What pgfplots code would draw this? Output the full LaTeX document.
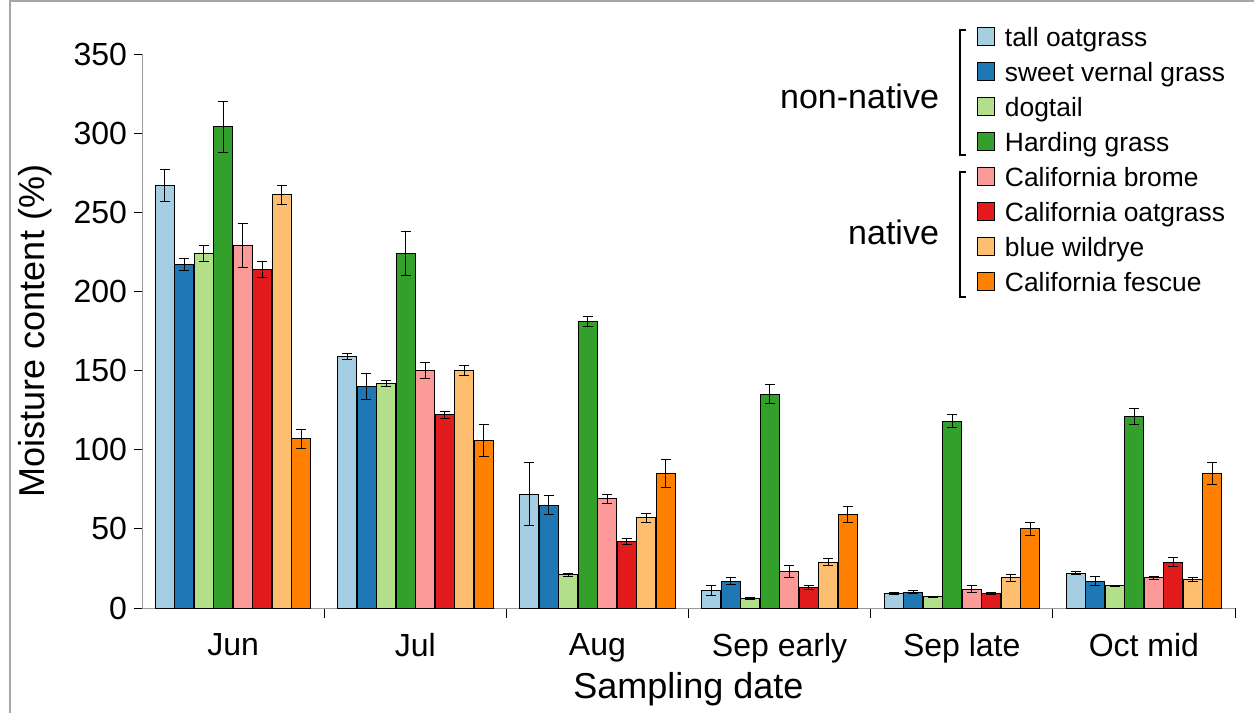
\documentclass[border=0pt]{standalone}
\usepackage{pgfplots}
\pgfplotsset{compat=1.18}
\usepackage{fontspec}
\setmainfont{Liberation Sans}
\definecolor{c1}{HTML}{A6CEE3}\definecolor{c2}{HTML}{1F78B4}
\definecolor{c3}{HTML}{B2DF8A}\definecolor{c4}{HTML}{33A02C}
\definecolor{c5}{HTML}{FB9A99}\definecolor{c6}{HTML}{E31A1C}
\definecolor{c7}{HTML}{FDBF6F}\definecolor{c8}{HTML}{FF7F00}
\begin{document}
\begin{tikzpicture}
\useasboundingbox (0,0) rectangle (627pt,356.5pt);
\draw[gray!70,line width=0.8pt] (5pt,0) -- (5pt,356pt) -- (627pt,356pt);
\draw[black,line width=0.6pt] (483pt,341.5pt) -- (480pt,341.5pt) -- (480pt,279pt) -- (483pt,279pt);
\draw[black,line width=0.6pt] (483pt,270.5pt) -- (480pt,270.5pt) -- (480pt,208pt) -- (483pt,208pt);
\node[anchor=east,font=\fontsize{17}{19}\selectfont] at (473pt,308.5pt) {non-native};
\node[anchor=east,font=\fontsize{17}{19}\selectfont] at (473pt,240.5pt) {native};
\begin{axis}[at={(71pt,52.5pt)},anchor=south west,scale only axis,
 width=546.5pt,height=277pt,xmin=-0.5,xmax=5.5,ymin=0,ymax=350,
 axis x line*=bottom,axis y line*=left,
 ytick={0,50,...,350},
 xtick={0,...,5},xticklabels={Jun,Jul,Aug,Sep early,Sep late,Oct mid},
 major x tick style={draw=none},
 minor xtick={0.5,1.5,2.5,3.5,4.5,5.5},
 minor tick length=5pt,
 every tick/.style={black},
 tick align=outside,major tick length=4pt,
 tick label style={font=\fontsize{16}{18}\selectfont},
 xticklabel style={yshift=-5pt},
 /pgf/number format/assume math mode=true,
 xlabel={Sampling date},ylabel={Moisture content (\%)},
 label style={font=\fontsize{18}{20}\selectfont},
 xlabel style={yshift=2pt},ylabel style={yshift=4pt},
 axis line style={gray!80},
 ybar,bar width=9.5pt,
 every axis plot/.append style={draw=black,line width=0.5pt},
 error bars/y dir=both,error bars/y explicit,
 error bars/error mark options={rotate=90,mark size=2.5pt,black,line width=0.5pt},
 error bars/error bar style={black,line width=0.5pt},
 legend cell align=left,
 legend style={at={(0.758,1.063)},anchor=north west,draw=none,fill=none,
   font=\fontsize{13.2}{14}\selectfont,row sep=2.4pt,nodes={inner xsep=5pt}},
 legend image code/.code={\draw[#1,draw=black] (0cm,-0.13cm) rectangle (0.3cm,0.19cm);},
 clip=false]
\addplot[fill=c1,bar shift=-34.125pt] coordinates {(0,267)+-(0,10) (1,159)+-(0,2) (2,72)+-(0,20) (3,11)+-(0,3) (4,9)+-(0,0.6) (5,22)+-(0,1)};
\addplot[fill=c2,bar shift=-24.375pt] coordinates {(0,217)+-(0,4) (1,140)+-(0,8) (2,65)+-(0,6) (3,17)+-(0,2) (4,10)+-(0,1) (5,17)+-(0,3)};
\addplot[fill=c3,bar shift=-14.625pt] coordinates {(0,224)+-(0,5) (1,142)+-(0,2) (2,21)+-(0,1) (3,6)+-(0,0.5) (4,7)+-(0,0.5) (5,14)+-(0,0.5)};
\addplot[fill=c4,bar shift=-4.875pt] coordinates {(0,304)+-(0,16) (1,224)+-(0,14) (2,181)+-(0,3) (3,135)+-(0,6) (4,118)+-(0,4) (5,121)+-(0,5)};
\addplot[fill=c5,bar shift=4.875pt] coordinates {(0,229)+-(0,14) (1,150)+-(0,5) (2,69)+-(0,3) (3,23)+-(0,4) (4,12)+-(0,2) (5,19)+-(0,1)};
\addplot[fill=c6,bar shift=14.625pt] coordinates {(0,214)+-(0,5) (1,122)+-(0,2) (2,42)+-(0,2) (3,13)+-(0,1.5) (4,9)+-(0,0.5) (5,29)+-(0,3)};
\addplot[fill=c7,bar shift=24.375pt] coordinates {(0,261)+-(0,6) (1,150)+-(0,3) (2,57)+-(0,3) (3,29)+-(0,2) (4,19)+-(0,2) (5,18)+-(0,1)};
\addplot[fill=c8,bar shift=34.125pt] coordinates {(0,107)+-(0,6) (1,106)+-(0,10) (2,85)+-(0,9) (3,59)+-(0,5) (4,50)+-(0,4) (5,85)+-(0,7)};
\legend{tall oatgrass,sweet vernal grass,dogtail,Harding grass,California brome,California oatgrass,blue wildrye,California fescue}
\end{axis}
\end{tikzpicture}
\end{document}
